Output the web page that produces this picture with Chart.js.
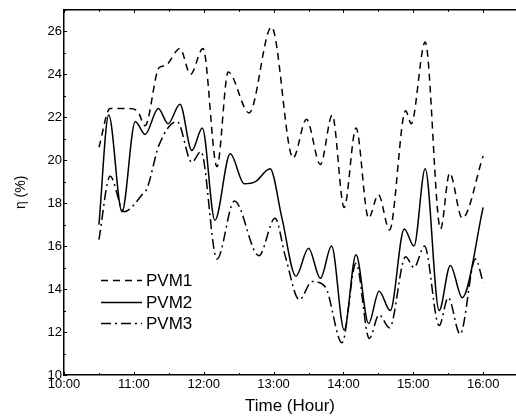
<!DOCTYPE html>
<html>
<head>
<meta charset="utf-8">
<script src="https://cdn.jsdelivr.net/npm/chart.js@4.4.1/dist/chart.umd.min.js"></script>
<style>
  html, body { margin: 0; padding: 0; background: #fff; }
  #wrap { width: 516px; height: 416px; position: relative; }
</style>
</head>
<body>
<div id="wrap"><canvas id="c" width="516" height="416"></canvas></div>
<script>
// ---- data (time in decimal hours, efficiency in %) ----
const seriesNames = ["PVM1", "PVM2", "PVM3"];

const timePVM1 = [10.50,10.66,10.76,10.92,11.05,11.16,11.36,11.45,11.66,11.81,11.99,12.19,12.35,12.65,12.97,13.28,13.47,13.67,13.84,14.01,14.18,14.36,14.50,14.66,14.89,14.97,15.17,15.39,15.52,15.70,16.00];
const etaPVM1  = [20.6,22.4,22.4,22.4,22.3,21.6,24.3,24.4,25.2,24.0,25.2,19.7,24.1,22.2,26.2,20.1,21.9,19.8,22.1,17.8,21.5,17.3,18.4,16.75,22.3,21.7,25.5,16.8,19.4,17.3,20.2];

const timePVM2 = [10.50,10.64,10.83,11.02,11.16,11.35,11.49,11.66,11.83,11.98,12.16,12.38,12.58,12.74,12.95,13.12,13.32,13.50,13.67,13.83,14.01,14.18,14.36,14.51,14.67,14.87,15.01,15.17,15.37,15.53,15.70,16.00];
const etaPVM2  = [17.0,22.1,17.6,21.8,21.2,22.4,21.7,22.6,20.45,21.5,17.2,20.3,18.9,19.0,19.6,17.3,14.6,15.9,14.5,16.0,12.1,15.6,12.4,13.9,13.0,16.8,16.0,19.6,13.0,15.1,13.6,17.8];

const timePVM3 = [10.50,10.66,10.86,11.12,11.19,11.36,11.62,11.83,11.96,12.19,12.44,12.79,13.02,13.17,13.37,13.55,13.74,13.98,14.18,14.37,14.51,14.66,14.89,15.01,15.16,15.37,15.50,15.67,15.89,16.00];
const etaPVM3  = [16.3,19.25,17.6,18.4,18.7,20.7,21.8,19.9,20.4,15.4,18.1,15.55,17.3,15.5,13.5,14.35,14.1,11.5,15.2,11.7,12.8,12.2,15.5,15.0,16.0,12.3,13.6,11.9,15.4,14.3];

const xTickHours = [10, 11, 12, 13, 14, 15, 16];
const yTickValues = [10, 12, 14, 16, 18, 20, 22, 24, 26];

function pts(t, v) { return t.map((x, i) => ({ x: x, y: v[i] })); }

const FONT = "'Liberation Sans', Arial, sans-serif";

// frame + inward ticks + legend
const framePlugin = {
  id: 'frame',
  afterDraw(chart) {
    const ctx = chart.ctx, a = chart.chartArea;
    const xs = chart.scales.x, ys = chart.scales.y;
    ctx.save();
    ctx.strokeStyle = '#000';
    ctx.lineWidth = 1.5;
    ctx.beginPath();
    ctx.moveTo(a.left, a.top); ctx.lineTo(a.right, a.top);
    ctx.stroke();
    ctx.lineWidth = 1;
    ctx.beginPath();
    for (let h = xs.min; h <= xs.max + 1e-9; h += 0.5) {
      const px = Math.round(xs.getPixelForValue(h)) + 0.5;
      const len = (Math.abs(h - Math.round(h)) < 1e-6) ? 3 : 2;
      ctx.moveTo(px, a.bottom); ctx.lineTo(px, a.bottom - len);
      ctx.moveTo(px, a.top); ctx.lineTo(px, a.top + len);
    }
    for (let v = ys.min; v <= ys.max; v += 1) {
      const py = Math.round(ys.getPixelForValue(v)) + 0.5;
      const len = (v % 2 === 0) ? 3 : 2;
      ctx.moveTo(a.left, py); ctx.lineTo(a.left + len, py);
    }
    ctx.stroke();

    // legend
    const rows = [280, 302, 323];
    ctx.font = '17px ' + FONT;
    ctx.fillStyle = '#000';
    ctx.textBaseline = 'middle';
    chart.data.datasets.forEach((ds, i) => {
      ctx.beginPath();
      ctx.lineWidth = ds.borderWidth;
      ctx.setLineDash(ds.borderDash || []);
      ctx.moveTo(101, rows[i] + 0.5);
      ctx.lineTo(142, rows[i] + 0.5);
      ctx.stroke();
      ctx.setLineDash([]);
      ctx.fillText(ds.label, 146, rows[i] + 1);
    });
    ctx.restore();
  }
};

new Chart(document.getElementById('c'), {
  type: 'line',
  data: {
    datasets: [
      { label: seriesNames[0], data: pts(timePVM1, etaPVM1), borderDash: [7, 5] },
      { label: seriesNames[1], data: pts(timePVM2, etaPVM2), borderDash: [] },
      { label: seriesNames[2], data: pts(timePVM3, etaPVM3), borderDash: [10, 4, 2, 4] }
    ].map(d => Object.assign(d, {
      borderColor: '#000', borderWidth: 1.5, pointRadius: 0, fill: false,
      cubicInterpolationMode: 'monotone'
    }))
  },
  options: {
    responsive: false,
    animation: false,
    devicePixelRatio: 1,
    layout: { padding: { top: 7, right: 0, left: 0, bottom: 0 } },
    plugins: { legend: { display: false }, tooltip: { enabled: false } },
    scales: {
      x: {
        type: 'linear', min: 10, max: 16.47,
        afterBuildTicks: s => { s.ticks = xTickHours.map(v => ({ value: v })); },
        afterFit: s => { s.height = 41; },
        grid: { display: false, drawTicks: false },
        border: { display: true, color: '#000', width: 1.5 },
        ticks: {
          color: '#000', font: { family: FONT, size: 13 }, padding: 2, maxRotation: 0, autoSkip: false,
          callback: v => v + ':00'
        },
        title: { display: true, text: 'Time (Hour)', color: '#000', font: { family: FONT, size: 17 }, padding: { top: 4, bottom: -1 } }
      },
      y: {
        min: 10, max: 27,
        afterBuildTicks: s => { s.ticks = yTickValues.map(v => ({ value: v })); },
        afterFit: s => { s.width = 64; },
        grid: { display: false, drawTicks: false },
        border: { display: true, color: '#000', width: 1.5 },
        ticks: { color: '#000', font: { family: FONT, size: 13 }, padding: 2, autoSkip: false },
        title: { display: true, text: 'η (%)', color: '#000', font: { family: FONT, size: 14 }, padding: { top: 13, bottom: 0 } }
      }
    }
  },
  plugins: [framePlugin]
});
</script>
</body>
</html>
